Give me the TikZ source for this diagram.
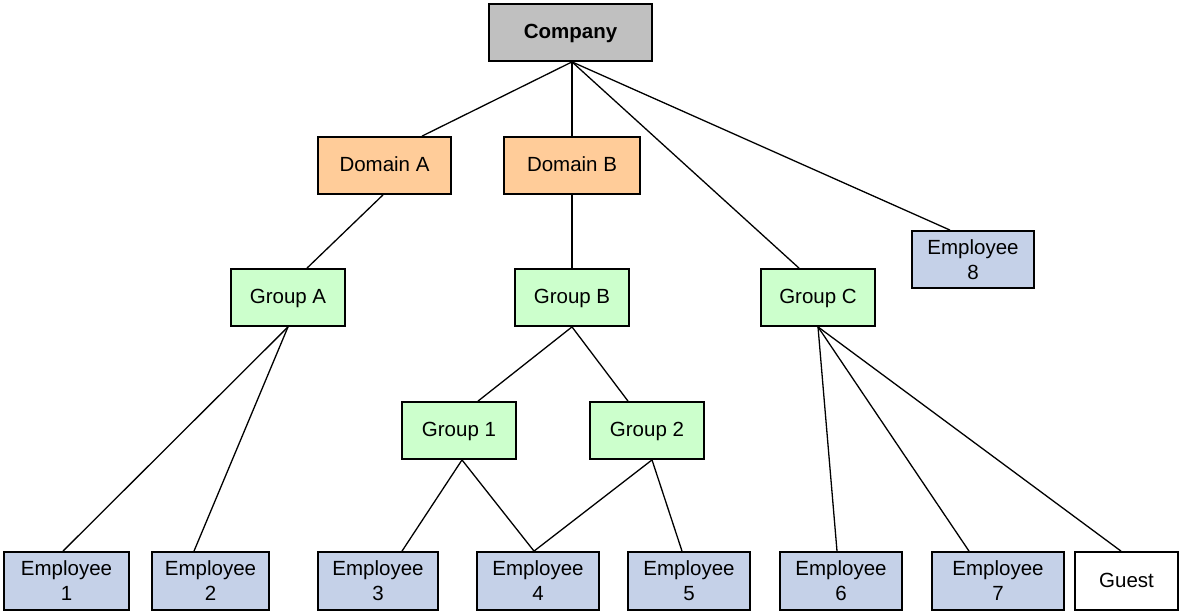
\documentclass[tikz,border=0pt]{standalone}
\usepackage{fontspec}
\setmainfont{Liberation Sans}
\usetikzlibrary{calc}
\definecolor{cgray}{RGB}{192,192,192}
\definecolor{corange}{RGB}{255,204,153}
\definecolor{cgreen}{RGB}{204,255,204}
\definecolor{cblue}{RGB}{197,209,232}
\tikzset{
  box/.style={draw=black, line width=1.8pt, rectangle, inner sep=0pt, align=center,
    font=\fontsize{20.5}{25}\selectfont, minimum height=57pt},
  oneline/.style={text height=12pt, text depth=0pt},
  graybox/.style={box, oneline, fill=cgray, font=\fontsize{20.5}{25}\selectfont\bfseries},
  orangebox/.style={box, oneline, fill=corange},
  greenbox/.style={box, oneline, fill=cgreen, minimum width=114pt},
  bluebox/.style={box, fill=cblue, minimum height=58pt},
  whitebox/.style={box, oneline, fill=white, minimum height=58pt},
  link/.style={draw=black, line width=1.3pt}
}
\begin{document}
\begin{tikzpicture}[x=1pt, y=-1pt]
\useasboundingbox (0,0) rectangle (1182,614);
% top
\node[graybox, minimum width=163pt] (co) at (570.5,32.5) {Company};
\node[orangebox, minimum width=133pt] (da) at (384.5,165.5) {Domain A};
\node[orangebox, minimum width=136pt] (db) at (572,165.5) {Domain B};
\node[greenbox] (ga) at (288,297.5) {Group A};
\node[greenbox] (gb) at (572,297.5) {Group B};
\node[greenbox] (gc) at (818,297.5) {Group C};
\node[bluebox, minimum width=122pt, minimum height=57pt] (e8) at (973,259.5) {Employee\\8};
\node[greenbox] (g1) at (459,430.5) {Group 1};
\node[greenbox] (g2) at (647,430.5) {Group 2};
% bottom row
\node[bluebox, minimum width=125pt] (e1) at (66.5,581) {Employee\\1};
\node[bluebox, minimum width=117pt] (e2) at (210.5,581) {Employee\\2};
\node[bluebox, minimum width=120pt] (e3) at (378,581) {Employee\\3};
\node[bluebox, minimum width=122pt] (e4) at (538,581) {Employee\\4};
\node[bluebox, minimum width=122pt] (e5) at (689,581) {Employee\\5};
\node[bluebox, minimum width=122pt] (e6) at (841,581) {Employee\\6};
\node[bluebox, minimum width=132pt] (e7) at (998,581) {Employee\\7};
\node[whitebox, minimum width=103pt] (gu) at (1126.5,581) {Guest};
% connectors
\draw[link] ($(co.south)+(1.5,0)$) -- ($(da.north)+(37.5,0)$);
\draw[link] ($(co.south)+(1.5,0)$) -- (db.north);
\draw[link] ($(co.south)+(1.5,0)$) -- ($(gc.north)+(-19,0)$);
\draw[link] ($(co.south)+(1.5,0)$) -- ($(e8.north)+(-23,0)$);
\draw[link] ($(da.south)+(-1.5,0)$) -- ($(ga.north)+(19,0)$);
\draw[link] (db.south) -- (gb.north);
\draw[link] (ga.south) -- ($(e1.north)+(-3.5,0)$);
\draw[link] (ga.south) -- ($(e2.north)+(-16.5,0)$);
\draw[link] (gb.south) -- ($(g1.north)+(19,0)$);
\draw[link] (gb.south) -- ($(g2.north)+(-19,0)$);
\draw[link] ($(g1.south)+(3,0)$) -- ($(e3.north)+(24,0)$);
\draw[link] ($(g1.south)+(3,0)$) -- ($(e4.north)+(-4,0)$);
\draw[link] ($(g2.south)+(5,0)$) -- ($(e4.north)+(-4,0)$);
\draw[link] ($(g2.south)+(5,0)$) -- ($(e5.north)+(-7,0)$);
\draw[link] (gc.south) -- ($(e6.north)+(-4,0)$);
\draw[link] (gc.south) -- ($(e7.north)+(-29,0)$);
\draw[link] (gc.south) -- ($(gu.north)+(-5.5,0)$);
\end{tikzpicture}
\end{document}
